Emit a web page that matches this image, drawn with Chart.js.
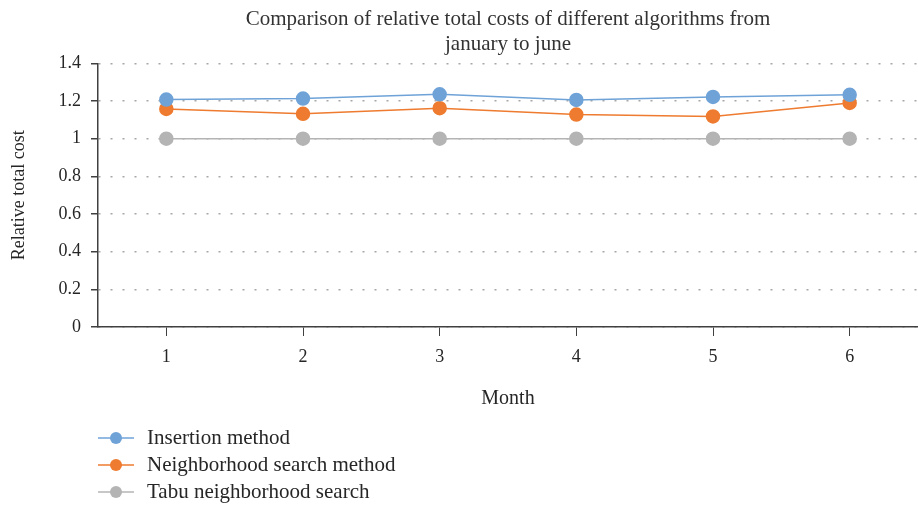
<!DOCTYPE html>
<html>
<head>
<meta charset="utf-8">
<script src="https://cdn.jsdelivr.net/npm/chart.js@4.4.1/dist/chart.umd.min.js"></script>
<style>
  html, body { margin: 0; padding: 0; background: #ffffff; overflow: hidden; }
  #wrap { width: 918px; height: 506px; position: relative; }
</style>
</head>
<body>
<div id="wrap"><canvas id="chart" width="918" height="506"></canvas></div>
<script>
// Months on the x axis
const months = ['1', '2', '3', '4', '5', '6'];

// Relative total cost per algorithm, January to June
const insertionMethod = [1.208, 1.213, 1.236, 1.206, 1.222, 1.233];
const neighborhoodSearch = [1.158, 1.132, 1.162, 1.128, 1.118, 1.190];
const tabuSearch = [1.0, 1.0, 1.0, 1.0, 1.0, 1.0];

const seriesNames = ['Insertion method', 'Neighborhood search method', 'Tabu neighborhood search'];
const seriesColors = ['#6fa3d8', '#ee7b2f', '#b4b4b4'];

const serif = "'Liberation Serif', 'DejaVu Serif', serif";
const textColor = '#262626';
const axisColor = '#404040';

// Vertical legend under the plot, one row per series
const stackedLegend = {
  id: 'stackedLegend',
  afterDraw(chart) {
    const ctx = chart.ctx;
    const x0 = 98, lineLen = 36, textX = 147;
    const rows = [438, 465, 492];
    ctx.save();
    chart.data.datasets.forEach((ds, i) => {
      const y = rows[i];
      ctx.strokeStyle = ds.borderColor;
      ctx.lineWidth = 1.5;
      ctx.beginPath();
      ctx.moveTo(x0, y);
      ctx.lineTo(x0 + lineLen, y);
      ctx.stroke();
      ctx.fillStyle = ds.backgroundColor;
      ctx.beginPath();
      ctx.arc(x0 + 18, y, 6, 0, Math.PI * 2);
      ctx.fill();
      ctx.fillStyle = textColor;
      ctx.font = '21px ' + serif;
      ctx.textBaseline = 'middle';
      ctx.textAlign = 'left';
      ctx.fillText(ds.label, textX, y);
    });
    ctx.restore();
  }
};

const makeSet = (label, data, color) => ({
  label: label,
  data: data,
  borderColor: color,
  backgroundColor: color,
  pointBackgroundColor: color,
  pointBorderColor: color,
  borderWidth: 1.5,
  pointRadius: 6.5,
  pointHoverRadius: 6.5,
  tension: 0
});

new Chart(document.getElementById('chart'), {
  type: 'line',
  data: {
    labels: months,
    datasets: [
      makeSet(seriesNames[0], insertionMethod, seriesColors[0]),
      makeSet(seriesNames[1], neighborhoodSearch, seriesColors[1]),
      makeSet(seriesNames[2], tabuSearch, seriesColors[2])
    ]
  },
  options: {
    responsive: false,
    animation: false,
    layout: { autoPadding: false, padding: { left: 0, right: 0, top: 0, bottom: 90 } },
    plugins: {
      legend: { display: false },
      tooltip: { enabled: false },
      title: {
        display: true,
        fullSize: false,
        text: ['Comparison of relative total costs of different algorithms from', 'january to june'],
        color: '#333333',
        font: { family: serif, size: 21, weight: 'normal' },
        lineHeight: 1.15,
        padding: { top: 7, bottom: 6 }
      }
    },
    scales: {
      x: {
        offset: true,
        grid: {
          offset: false,
          drawOnChartArea: false,
          drawTicks: true,
          tickLength: 9,
          tickColor: axisColor,
          tickWidth: 1
        },
        border: { display: true, color: axisColor, width: 1.5 },
        ticks: {
          color: textColor,
          font: { family: serif, size: 18 },
          padding: 10
        },
        title: {
          display: true,
          text: 'Month',
          color: textColor,
          font: { family: serif, size: 20 },
          padding: { top: 0, bottom: 5 }
        },
        afterFit(scale) {
          scale.height = 89;
          scale.paddingLeft = 0;
          scale.paddingRight = 0;
        }
      },
      y: {
        min: 0,
        max: 1.4,
        ticks: {
          stepSize: 0.2,
          color: textColor,
          font: { family: serif, size: 18 },
          padding: 10,
          callback: (value) => String(Number(value.toFixed(1)))
        },
        grid: {
          color: '#a6a6a6',
          lineWidth: 1.5,
          drawTicks: true,
          tickLength: 7,
          tickColor: axisColor,
          tickWidth: 1.5
        },
        border: { display: true, color: axisColor, width: 1.5, dash: [2, 10], dashOffset: 0 },
        title: {
          display: true,
          text: 'Relative total cost',
          color: textColor,
          font: { family: serif, size: 18 },
          padding: { top: 8, bottom: 3 }
        },
        afterFit(scale) { scale.width = 98; }
      }
    }
  },
  plugins: [stackedLegend]
});
</script>
</body>
</html>
